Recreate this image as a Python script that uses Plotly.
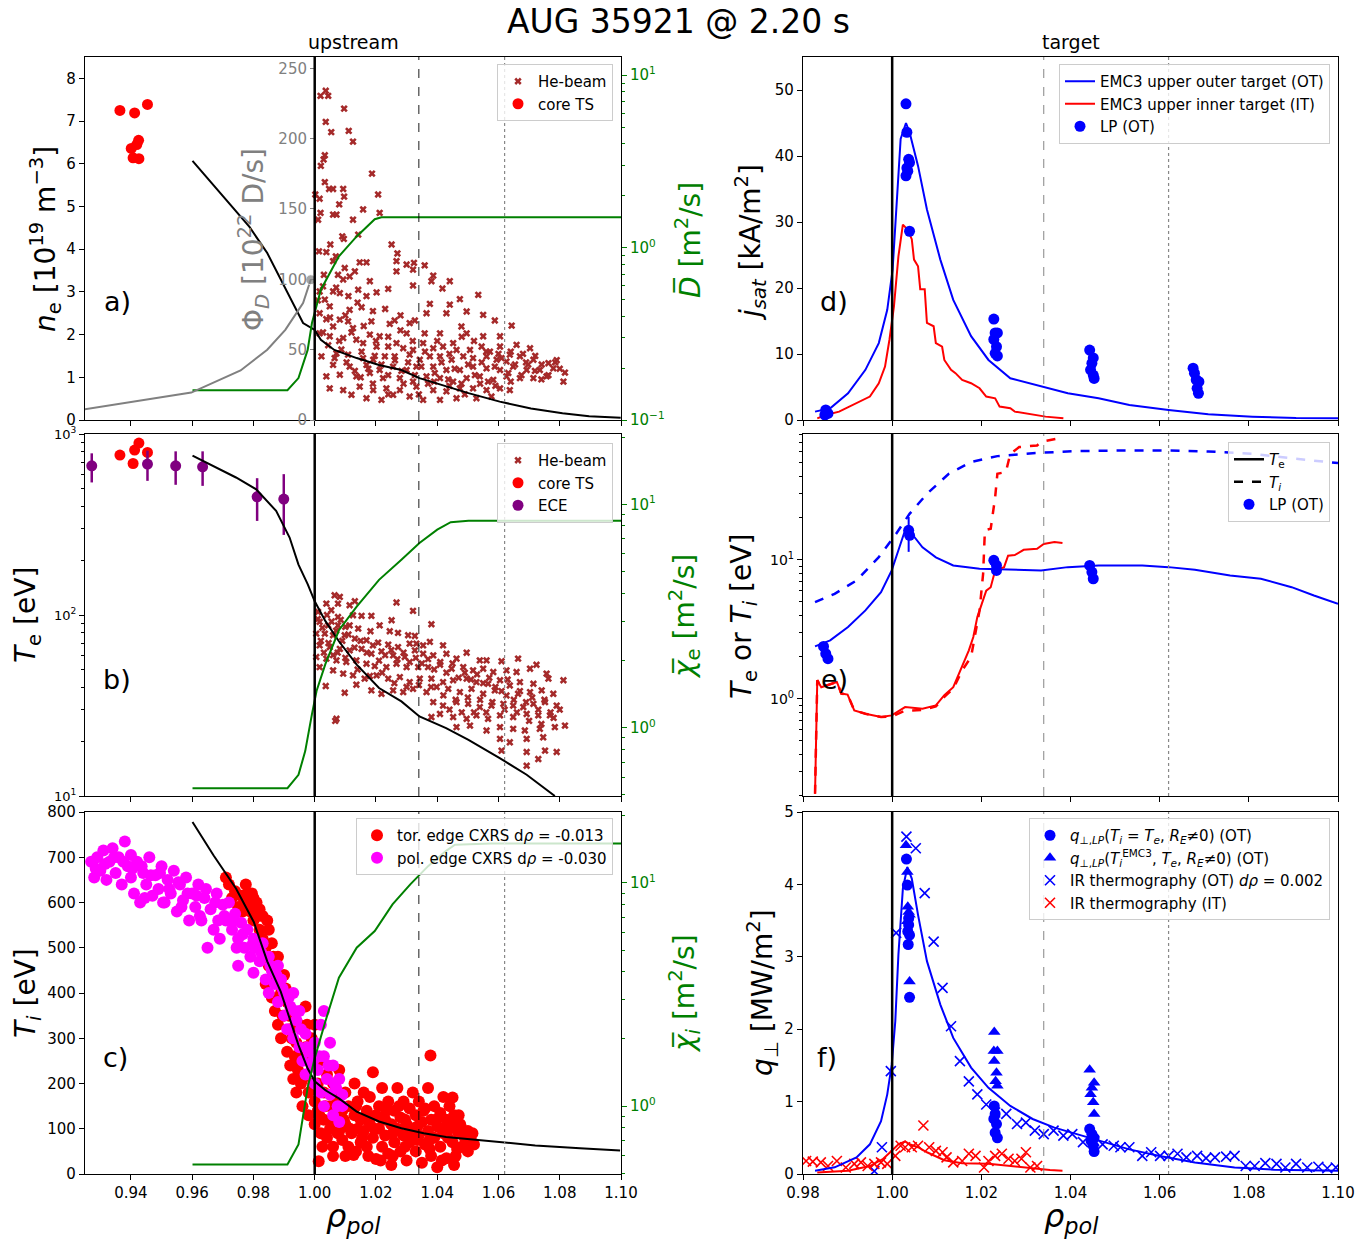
import plotly.graph_objects as go

W, H = 1371, 1241
FONT = "DejaVu Sans"
GREEN = "#008000"
GRAY = "#808080"
BROWN = "#A52A2A"

# ---------------- panel a (n_e upstream) ----------------
NE_MODEL_RHO = [0.9601, 0.9787, 0.9845, 0.9918, 0.9962, 1.000, 1.002, 1.0064, 1.0137, 1.021, 1.0283,
                1.0342, 1.0429, 1.0502, 1.0604, 1.0706, 1.0809, 1.0896, 1.0999]
NE_MODEL = [6.07, 4.52, 3.91, 2.89, 2.27, 2.11, 1.88, 1.64, 1.45, 1.29, 1.17, 0.98, 0.78, 0.63, 0.43,
            0.27, 0.16, 0.09, 0.05]
PHI_RHO = [0.9247, 0.9597, 0.9758, 0.9845, 0.9904, 0.9962, 0.9987]
PHI_D = [7.6, 19.5, 35.2, 49.9, 64.1, 83.1, 99.7]
D_RHO = [0.9601, 0.9911, 0.9947, 0.9977, 0.9991, 1.002, 1.0079, 1.0137, 1.0196, 1.0218, 1.10]
D_BAR = [0.149, 0.149, 0.175, 0.255, 0.365, 0.57, 0.89, 1.16, 1.46, 1.50, 1.50]
TS_A_RHO = [0.9364, 0.9412, 0.9454, 0.9425, 0.9419, 0.9401, 0.9407, 0.9426]
TS_A_NE = [7.25, 7.19, 7.39, 6.55, 6.45, 6.36, 6.14, 6.12]
HEB_NE = [
    (1.0036, 7.71), (1.0019, 7.59), (1.0044, 7.59), (1.0096, 7.29), (1.0036, 6.98), (1.0054, 6.74), (1.0111, 6.77),
    (1.0125, 6.52), (1.0033, 6.20), (1.0029, 6.10), (1.0020, 5.95), (1.0187, 5.77), (1.0033, 5.57), (1.0207, 5.28),
    (1.0047, 5.41), (1.0060, 5.41), (1.0093, 5.41), (1.0002, 5.28), (1.0016, 5.18), (1.0096, 5.23), (1.0080, 5.05),
    (1.0019, 4.85), (1.0158, 4.93), (1.0060, 4.81), (1.0071, 4.81), (1.0212, 4.85), (1.0125, 4.69), (1.0011, 4.69),
    (1.0090, 4.30), (1.0095, 4.24), (1.0142, 4.34), (1.0051, 4.11), (1.0251, 4.11), (1.0014, 3.95), (1.0038, 3.93),
    (1.0270, 3.90), (1.0069, 3.83), (1.0267, 3.72), (1.0060, 3.72), (1.0147, 3.69), (1.0169, 3.69), (1.0300, 3.64),
    (1.0324, 3.68), (1.0359, 3.62), (1.0098, 3.56), (1.0131, 3.48), (1.0267, 3.48), (1.0321, 3.52), (1.0387, 3.38),
    (1.0076, 3.40), (1.0114, 3.36), (1.0180, 3.25), (1.0381, 3.25), (1.0441, 3.25), (1.0093, 3.29), (1.0027, 3.13),
    (1.0321, 3.15), (1.0417, 3.08), (1.0016, 3.01), (1.0060, 3.01), (1.0082, 2.97), (1.0142, 3.05), (1.0202, 2.99),
    (1.0240, 3.07), (1.0474, 2.83), (1.0534, 2.93), (1.0169, 2.90), (1.0376, 2.72), (1.0430, 2.50), (1.0441, 2.70),
    (1.0496, 2.54), (1.0365, 2.50), (1.0550, 2.46), (1.0588, 2.33), (1.0643, 2.21), (1.0033, 2.82), (1.0049, 2.66),
    (1.0114, 2.58), (1.0153, 2.64), (1.0016, 2.50), (1.0038, 2.36), (1.0082, 2.35), (1.0109, 2.31), (1.0185, 2.31),
    (1.0245, 2.25), (1.0261, 2.33), (1.0310, 2.27), (1.0327, 2.33), (1.0060, 2.19), (1.0125, 2.15), (1.0180, 2.00),
    (1.0212, 1.96), (1.0300, 2.03), (1.0359, 2.03), (1.0409, 2.03), (1.0479, 2.19), (1.0496, 2.03), (1.0550, 1.96),
    (1.0605, 1.96), (1.0016, 2.03), (1.0049, 1.96), (1.0093, 1.92), (1.0136, 1.88), (1.0158, 1.80), (1.0202, 1.72),
    (1.0240, 1.72), (1.0267, 1.80), (1.0289, 1.68), (1.0321, 1.64), (1.0354, 1.80), (1.0387, 1.68), (1.0419, 1.72),
    (1.0452, 1.80), (1.0463, 1.64), (1.0507, 1.64), (1.0545, 1.72), (1.0572, 1.60), (1.0605, 1.72), (1.0637, 1.53),
    (1.0659, 1.76), (1.0703, 1.68), (1.0022, 1.49), (1.0071, 1.56), (1.0109, 1.53), (1.0158, 1.45), (1.0191, 1.41),
    (1.0229, 1.49), (1.0261, 1.49), (1.0310, 1.53), (1.0343, 1.41), (1.0376, 1.49), (1.0409, 1.49), (1.0447, 1.41),
    (1.0485, 1.49), (1.0517, 1.45), (1.0561, 1.49), (1.0594, 1.41), (1.0626, 1.37), (1.0670, 1.49), (1.0714, 1.41),
    (1.0763, 1.33), (1.0060, 1.29), (1.0114, 1.25), (1.0169, 1.29), (1.0212, 1.17), (1.0256, 1.25), (1.0300, 1.17),
    (1.0332, 1.25), (1.0387, 1.25), (1.0430, 1.17), (1.0474, 1.17), (1.0517, 1.25), (1.0561, 1.21), (1.0605, 1.17),
    (1.0648, 1.25), (1.0692, 1.17), (1.0735, 1.17), (1.0779, 1.21), (1.0817, 1.11), (1.0038, 1.02), (1.0082, 1.06),
    (1.0136, 1.02), (1.0180, 1.10), (1.0223, 0.98), (1.0278, 0.98), (1.0321, 0.90), (1.0365, 1.02), (1.0409, 0.98),
    (1.0452, 0.90), (1.0496, 0.98), (1.0539, 1.02), (1.0583, 0.94), (1.0626, 1.02), (1.0670, 0.98), (1.0714, 0.98),
    (1.0757, 1.02), (1.0812, 0.90), (1.0049, 0.74), (1.0093, 0.70), (1.0147, 0.78), (1.0191, 0.70), (1.0234, 0.74),
    (1.0278, 0.70), (1.0332, 0.78), (1.0387, 0.70), (1.0430, 0.67), (1.0474, 0.74), (1.0517, 0.74), (1.0561, 0.70),
    (1.0605, 0.74), (1.0637, 0.70), (1.0120, 0.59), (1.0169, 0.51), (1.0218, 0.47), (1.0256, 0.59), (1.0310, 0.55),
    (1.0354, 0.47), (1.0409, 0.47), (1.0463, 0.51), (1.0528, 0.51), (1.0577, 0.55),
    (1.0027, 2.05), (1.0044, 1.75), (1.0065, 1.45), (1.0087, 1.65), (1.0104, 1.35), (1.0131, 1.15), (1.0153, 1.60),
    (1.0175, 1.20), (1.0196, 1.50), (1.0218, 1.30), (1.0240, 1.05), (1.0262, 1.40), (1.0283, 1.15), (1.0305, 1.35),
    (1.0327, 1.05), (1.0348, 1.25), (1.0370, 0.85), (1.0392, 1.10), (1.0414, 1.35), (1.0436, 0.95), (1.0457, 1.20),
    (1.0479, 0.85), (1.0501, 1.30), (1.0523, 1.05), (1.0545, 1.35), (1.0566, 0.90), (1.0588, 1.25), (1.0610, 1.45),
    (1.0632, 1.10), (1.0654, 1.30), (1.0675, 1.05), (1.0697, 1.30), (1.0719, 1.15), (1.0741, 1.30), (1.0763, 1.05),
    (1.0785, 1.35), (1.0800, 1.20), (1.0080, 1.85), (1.0120, 2.05), (1.0160, 2.20), (1.0200, 1.85), (1.0240, 1.95),
    (1.0280, 2.10), (1.0320, 1.85), (1.0360, 1.60), (1.0400, 1.85), (1.0440, 1.55), (1.0480, 1.95), (1.0520, 1.85),
    (1.0560, 1.60), (1.0600, 1.55), (1.0640, 1.60), (1.0680, 1.55), (1.0720, 1.50), (1.0050, 2.40), (1.0100, 2.45),
    (1.0140, 2.75), (1.0190, 2.55), (1.0230, 2.60), (1.0280, 2.45), (1.0010, 2.80), (1.0030, 3.40), (1.0070, 3.10),
    (1.0110, 2.90), (1.0150, 1.00), (1.0190, 0.85), (1.0240, 0.60), (1.0290, 0.85), (1.0340, 0.60), (1.0390, 0.90),
    (1.0440, 0.80), (1.0490, 0.60), (1.0540, 0.85), (1.0590, 0.80), (1.0640, 0.90), (1.0690, 1.35), (1.0740, 0.95),
    (1.0790, 1.40),
]

# ---------------- panel b (T_e upstream) ----------------
TE_MODEL_RHO = [0.9601, 0.9743, 0.9809, 0.9874, 0.9918, 0.9947, 0.9977, 1.0, 1.0035, 1.0079, 1.0137, 1.021,
                1.0283, 1.0342, 1.0429, 1.0502, 1.0604, 1.0692, 1.0784]
TE_MODEL = [759, 575, 495, 376, 268, 190, 148, 119, 92.5, 71.6, 53.2, 39.5, 33.3, 27.5, 23.7, 20.4, 16.2, 13.1, 10.0]
CHIE_RHO = [0.9601, 0.9911, 0.9947, 0.9969, 0.9991, 1.0006, 1.0035, 1.0079, 1.0137, 1.021, 1.0283, 1.0342,
            1.04, 1.0444, 1.0502, 1.10]
CHIE = [0.536, 0.536, 0.615, 0.785, 1.15, 1.46, 1.93, 2.73, 3.48, 4.59, 5.65, 6.71, 7.7, 8.32, 8.44, 8.44]
ECE_RHO = [0.9272, 0.9454, 0.9546, 0.9634, 0.9812, 0.9899]
ECE_TE = [667, 682, 667, 659, 450, 437]
ECE_ERR_UP = [115, 127, 135, 143, 120, 163]
ECE_ERR_DN = [127, 131, 143, 142, 119, 160]
TS_B_RHO = [0.9364, 0.9426, 0.9412, 0.9454, 0.9407]
TS_B_TE = [765, 891, 815, 791, 687]
HEB_TE = [
    (1.0065, 128.5), (1.0082, 125.9), (1.0076, 115.6), (1.0038, 115.6), (1.0114, 113.2), (1.0131, 119.1),
    (1.0267, 117.2), (1.0321, 105.4), (1.0011, 104.0), (1.0054, 106.3), (1.0076, 97.5), (1.0125, 99.7),
    (1.0153, 98.9), (1.0185, 98.9), (1.0212, 87.7), (1.0251, 93.5), (1.0016, 91.6), (1.0044, 87.7), (1.0076, 87.7),
    (1.0114, 87.7), (1.0142, 84.1), (1.0182, 81.3), (1.0245, 81.3), (1.0272, 79.6), (1.0305, 77.3), (1.0327, 76.6),
    (1.0381, 88.9), (1.0005, 78.9), (1.0033, 78.9), (1.0060, 77.3), (1.0098, 77.3), (1.0131, 74.1), (1.0169, 72.5),
    (1.0207, 70.4), (1.0240, 68.6), (1.0272, 66.5), (1.0310, 69.5), (1.0332, 69.5), (1.0354, 67.9), (1.0376, 71.0),
    (1.0419, 67.9), (1.0016, 67.9), (1.0049, 66.5), (1.0082, 65.0), (1.0114, 63.8), (1.0153, 65.0), (1.0185, 61.1),
    (1.0218, 63.0), (1.0256, 59.8), (1.0294, 58.6), (1.0327, 63.8), (1.0354, 61.1), (1.0387, 59.8), (1.0430, 61.1),
    (1.0463, 57.4), (1.0496, 61.9), (1.0539, 56.1), (1.0561, 56.1), (1.0610, 55.5), (1.0664, 57.4), (1.0724, 53.1),
    (1.0005, 58.6), (1.0038, 57.4), (1.0071, 56.1), (1.0103, 55.0), (1.0136, 56.1), (1.0169, 53.8), (1.0196, 52.2),
    (1.0234, 51.5), (1.0267, 53.8), (1.0300, 51.5), (1.0338, 51.5), (1.0370, 51.5), (1.0409, 53.1), (1.0447, 50.5),
    (1.0485, 51.5), (1.0517, 49.4), (1.0550, 50.5), (1.0583, 48.4), (1.0626, 49.4), (1.0659, 48.4), (1.0703, 50.5),
    (1.0757, 47.4), (1.0016, 51.5), (1.0060, 49.4), (1.0093, 47.4), (1.0125, 46.4), (1.0163, 44.5), (1.0202, 46.4),
    (1.0240, 44.5), (1.0278, 45.4), (1.0310, 42.6), (1.0343, 44.5), (1.0381, 44.5), (1.0419, 42.6), (1.0452, 43.6),
    (1.0496, 44.5), (1.0528, 42.6), (1.0566, 41.7), (1.0605, 43.6), (1.0637, 40.8), (1.0670, 42.6), (1.0714, 41.7),
    (1.0763, 44.5), (1.0812, 43.6), (1.0036, 40.5), (1.0098, 37.2), (1.0136, 41.2), (1.0185, 38.3), (1.0218, 36.7),
    (1.0256, 38.3), (1.0289, 37.5), (1.0321, 39.1), (1.0365, 37.5), (1.0398, 40.0), (1.0436, 39.1), (1.0474, 37.5),
    (1.0512, 39.1), (1.0550, 36.7), (1.0588, 38.3), (1.0626, 35.9), (1.0664, 36.7), (1.0703, 37.5), (1.0741, 38.3),
    (1.0779, 36.7), (1.0071, 26.7), (1.0387, 33.0), (1.0419, 31.6), (1.0463, 33.0), (1.0501, 32.3), (1.0539, 31.0),
    (1.0577, 31.6), (1.0616, 32.3), (1.0648, 31.6), (1.0681, 31.0), (1.0714, 32.3), (1.0752, 33.0), (1.0790, 31.6),
    (1.0381, 27.3), (1.0409, 28.4), (1.0452, 27.3), (1.0496, 26.7), (1.0528, 27.9), (1.0566, 26.7), (1.0605, 27.9),
    (1.0648, 27.3), (1.0692, 28.4), (1.0730, 27.9), (1.0768, 27.9), (1.0817, 24.5), (1.0463, 24.0), (1.0507, 24.5),
    (1.0561, 23.0), (1.0605, 24.0), (1.0648, 23.5), (1.0686, 23.0), (1.0735, 23.5), (1.0784, 24.0), (1.0605, 20.7),
    (1.0637, 19.8), (1.0692, 20.7), (1.0746, 21.1), (1.0610, 17.8), (1.0692, 17.5), (1.0752, 17.8), (1.0790, 17.5),
    (1.0692, 14.7), (1.0730, 16.0), (1.0067, 26.0),
    (1.0010, 95), (1.0025, 85), (1.0040, 100), (1.0055, 92), (1.0070, 82), (1.0085, 94), (1.0100, 86), (1.0020, 72),
    (1.0045, 70), (1.0075, 62), (1.0090, 72), (1.0110, 78), (1.0130, 66), (1.0150, 72), (1.0170, 62), (1.0190, 68),
    (1.0210, 56), (1.0230, 60), (1.0250, 64), (1.0270, 57), (1.0290, 62), (1.0310, 55), (1.0330, 58), (1.0350, 54),
    (1.0370, 57), (1.0390, 50), (1.0410, 55), (1.0430, 48), (1.0450, 54), (1.0470, 45), (1.0490, 48), (1.0510, 44),
    (1.0530, 47), (1.0550, 42), (1.0570, 45), (1.0590, 40), (1.0610, 38), (1.0630, 44), (1.0650, 34), (1.0670, 38),
    (1.0690, 33), (1.0710, 35), (1.0730, 30), (1.0750, 34), (1.0770, 29), (1.0030, 62), (1.0060, 60), (1.0100, 58),
    (1.0140, 50), (1.0180, 46), (1.0220, 48), (1.0260, 42), (1.0300, 40), (1.0340, 41), (1.0380, 40), (1.0420, 36),
    (1.0460, 34), (1.0500, 35), (1.0540, 34), (1.0580, 33), (1.0620, 30), (1.0660, 29), (1.0700, 26), (1.0740, 25),
    (1.0780, 27), (1.0800, 30), (1.0520, 29), (1.0560, 29), (1.0440, 30), (1.0480, 29),
]

# ---------------- panel c (T_i upstream) ----------------
TI_MODEL_RHO = [0.9601, 0.967, 0.9743, 0.9801, 0.9845, 0.9889, 0.9918, 0.9947, 0.9977, 1.0, 1.0035, 1.0079,
                1.0137, 1.021, 1.0283, 1.0356, 1.0429, 1.0502, 1.0604, 1.072, 1.0866, 1.0997]
TI_MODEL = [778, 704, 631, 557, 470, 403, 344, 285, 233, 205, 185, 167, 138, 116, 101, 90, 82, 77, 70, 63, 57, 52]
CHII_RHO = [0.9601, 0.9911, 0.9947, 0.9962, 0.9977, 1.0, 1.0035, 1.0079, 1.0137, 1.0196, 1.0254, 1.0312,
            1.0371, 1.0429, 1.0458, 1.0575, 1.10]
CHII = [0.548, 0.548, 0.673, 0.887, 1.21, 1.64, 2.40, 3.76, 5.12, 6.08, 8.0, 9.84, 11.9, 13.9, 14.8, 15.0, 15.0]
CXRS_TOR = [
    (0.971, 655), (0.972, 640), (0.973, 610), (0.974, 625), (0.975, 590), (0.976, 615), (0.977, 600), (0.978, 620),
    (0.979, 580), (0.980, 610), (0.980, 560), (0.981, 600), (0.982, 540), (0.982, 585), (0.983, 520), (0.983, 570),
    (0.984, 420), (0.984, 500), (0.985, 540), (0.985, 460), (0.986, 390), (0.986, 510), (0.987, 430), (0.987, 360),
    (0.988, 480), (0.988, 330), (0.989, 400), (0.989, 300), (0.990, 440), (0.990, 350), (0.991, 270), (0.991, 380),
    (0.992, 320), (0.992, 240), (0.993, 350), (0.993, 210), (0.994, 290), (0.994, 180), (0.995, 330), (0.995, 250),
    (0.996, 150), (0.996, 210), (0.997, 370), (0.997, 280), (0.998, 180), (0.998, 130), (0.999, 240), (0.999, 300),
    (1.000, 160), (1.000, 110), (1.000, 330), (1.001, 200), (1.001, 140), (1.002, 90), (1.002, 250), (1.0013, 28),
    (1.003, 180), (1.003, 120), (1.004, 220), (1.004, 80), (1.005, 150), (1.005, 100), (1.006, 200), (1.006, 60),
    (1.007, 130), (1.007, 170), (1.008, 95), (1.008, 230), (1.009, 140), (1.009, 75), (1.010, 110), (1.010, 180),
    (1.011, 60), (1.011, 150), (1.0127, 42), (1.012, 90), (1.013, 200), (1.013, 130), (1.014, 100), (1.014, 160),
    (1.015, 70), (1.015, 120), (1.016, 180), (1.016, 95), (1.017, 140), (1.017, 60), (1.018, 110), (1.018, 170),
    (1.019, 225), (1.019, 80), (1.020, 130), (1.020, 33), (1.021, 150), (1.021, 100), (1.022, 60), (1.022, 190),
    (1.023, 120), (1.023, 85), (1.024, 160), (1.024, 45), (1.025, 110), (1.025, 20), (1.026, 140), (1.026, 70),
    (1.027, 190), (1.027, 100), (1.028, 125), (1.028, 50), (1.029, 160), (1.029, 85), (1.030, 110), (1.030, 30),
    (1.031, 145), (1.031, 70), (1.032, 180), (1.032, 100), (1.033, 130), (1.033, 50), (1.034, 160), (1.034, 85),
    (1.035, 115), (1.035, 25), (1.036, 145), (1.036, 65), (1.037, 190), (1.037, 95), (1.0378, 262), (1.038, 120),
    (1.038, 40), (1.039, 150), (1.039, 80), (1.040, 105), (1.040, 15), (1.041, 135), (1.041, 60), (1.042, 170),
    (1.042, 90), (1.043, 120), (1.043, 35), (1.044, 100), (1.044, 150), (1.045, 169), (1.045, 70), (1.046, 110),
    (1.046, 40), (1.047, 90), (1.047, 130), (1.048, 60), (1.048, 100), (1.049, 80), (1.050, 95), (1.050, 50),
    (1.051, 75), (1.052, 65),
    (1.0015, 130), (1.0035, 150), (1.0055, 120), (1.0075, 90), (1.0095, 120), (1.0115, 100), (1.0135, 150),
    (1.0155, 80), (1.0175, 120), (1.0195, 100), (1.0215, 125), (1.0235, 140), (1.0255, 90), (1.0275, 150),
    (1.0295, 120), (1.0315, 90), (1.0335, 105), (1.0355, 140), (1.0375, 75), (1.0395, 120), (1.0415, 100),
    (1.0435, 80), (1.0455, 130), (1.0475, 110), (1.0495, 70), (1.0515, 90), (1.0135, 50), (1.0175, 40),
    (1.0215, 30), (1.0255, 40), (1.0295, 60), (1.0335, 75), (1.0375, 55), (1.0415, 30), (1.0455, 20), (1.0465, 55),
    (1.0025, 60), (1.0060, 40), (1.0100, 40), (0.9995, 200), (0.9985, 280), (0.9975, 330), (0.9965, 260),
    (0.9955, 200), (0.9945, 230), (0.9935, 260), (0.9925, 300), (0.9915, 350), (0.9905, 410), (0.9895, 350),
    (0.9875, 450), (0.9865, 480), (0.9855, 430), (0.9845, 560), (0.9835, 480), (0.9825, 520), (0.9815, 570),
    (0.9805, 590), (0.9795, 620), (0.9785, 600), (0.9775, 640), (0.9765, 580),
]
CXRS_POL = [
    (0.927, 690), (0.928, 655), (0.929, 700), (0.930, 670), (0.931, 715), (0.932, 650), (0.933, 690), (0.934, 720),
    (0.935, 665), (0.936, 700), (0.937, 640), (0.938, 735), (0.939, 680), (0.940, 705), (0.940, 655), (0.941, 620),
    (0.942, 690), (0.943, 600), (0.944, 665), (0.945, 640), (0.946, 700), (0.947, 615), (0.948, 660), (0.949, 630),
    (0.950, 680), (0.951, 600), (0.952, 650), (0.953, 620), (0.954, 670), (0.955, 580), (0.956, 640), (0.957, 605),
    (0.958, 655), (0.959, 560), (0.960, 620), (0.961, 590), (0.962, 640), (0.963, 560), (0.964, 610), (0.965, 500),
    (0.966, 585), (0.967, 540), (0.968, 620), (0.969, 520), (0.970, 595), (0.971, 560), (0.972, 600), (0.973, 540),
    (0.974, 575), (0.975, 460), (0.975, 520), (0.976, 555), (0.977, 500), (0.978, 540), (0.979, 480), (0.980, 520),
    (0.980, 445), (0.981, 500), (0.982, 470), (0.983, 510), (0.984, 430), (0.985, 480), (0.985, 400), (0.986, 450),
    (0.987, 420), (0.988, 460), (0.988, 380), (0.989, 430), (0.990, 350), (0.990, 400), (0.991, 320), (0.992, 370),
    (0.993, 300), (0.993, 400), (0.994, 340), (0.995, 280), (0.995, 360), (0.996, 250), (0.997, 310), (0.997, 220),
    (0.998, 270), (0.999, 240), (1.000, 200), (1.000, 290), (1.001, 230), (1.002, 180), (1.002, 330), (1.003, 260),
    (1.003, 150), (1.003, 360), (1.004, 210), (1.005, 175), (1.005, 290), (1.006, 240), (1.006, 130), (1.007, 190),
    (1.008, 210), (1.008, 115), (1.009, 150), (1.009, 175),
    (0.9285, 675), (0.9315, 685), (0.9345, 700), (0.9375, 690), (0.9405, 675), (0.9435, 680), (0.9465, 660),
    (0.9495, 665), (0.9525, 630), (0.9555, 645), (0.9585, 620), (0.9615, 615), (0.9645, 630), (0.9675, 600),
    (0.9705, 570), (0.9735, 560), (0.9765, 530), (0.9795, 505), (0.9825, 490), (0.9855, 460), (0.9875, 440),
    (0.9895, 410), (0.9915, 390), (0.9935, 360), (0.9955, 320), (0.9975, 280), (0.9995, 250), (1.0015, 260),
    (1.0045, 240), (1.0065, 200), (1.0075, 150), (0.9445, 610), (0.9505, 600), (0.9565, 590), (0.9625, 570),
    (0.9685, 560), (0.9745, 500),
]

# ---------------- panel d (j_sat target) ----------------
JSAT_OT_RHO = [0.9827, 0.9861, 0.9901, 0.994, 0.997, 0.9989, 1.0001, 1.0009, 1.0019, 1.0031, 1.0039, 1.0058,
               1.0078, 1.0108, 1.0137, 1.0177, 1.0216, 1.0265, 1.034, 1.0394, 1.0463, 1.0532, 1.062, 1.0709,
               1.0808, 1.0906, 1.10]
JSAT_OT = [1.27, 1.77, 4.05, 7.6, 11.65, 16.7, 22.8, 30.9, 42.6, 45.0, 43.6, 38.5, 31.9, 24.3, 18.2, 12.7, 9.1,
           6.33, 5.07, 4.05, 3.29, 2.28, 1.52, 0.86, 0.51, 0.30, 0.25]
JSAT_IT_RHO = [0.9832, 0.9851, 0.9881, 0.992, 0.995, 0.997, 0.9984, 0.9994, 1.0004, 1.0014, 1.0024, 1.0034,
               1.0044, 1.0049, 1.0058, 1.0063, 1.0073, 1.0078, 1.0093, 1.0098, 1.0112, 1.0117, 1.0132, 1.0142,
               1.0157, 1.0177, 1.0196, 1.0211, 1.0231, 1.0241, 1.0265, 1.0275, 1.03, 1.0315, 1.0344, 1.0384]
JSAT_IT = [0.25, 0.76, 1.27, 2.53, 3.55, 5.57, 8.1, 12.2, 17.2, 24.8, 29.6, 28.9, 27.4, 24.3, 23.3, 19.8, 19.8,
           14.7, 14.2, 11.65, 11.1, 9.1, 7.6, 7.1, 6.08, 5.57, 4.81, 3.55, 3.29, 2.03, 1.77, 1.27, 1.01, 0.76,
           0.51, 0.25]
LP_D_RHO = [1.0031, 1.0033, 1.0037, 1.0039, 1.0033, 1.0035, 1.0031, 1.0039, 0.9851, 0.9856, 0.9849, 1.0228,
            1.0231, 1.0236, 1.0228, 1.0234, 1.0231, 1.0236, 1.0443, 1.0451, 1.0448, 1.0445, 1.0451, 1.0453,
            1.0675, 1.0678, 1.0682, 1.0688, 1.0684, 1.0687]
LP_D_JSAT = [47.9, 43.6, 39.5, 39.0, 38.2, 37.7, 37.0, 28.6, 1.52, 1.0, 0.76, 15.3, 13.2, 13.2, 12.2, 11.1, 10.1,
             9.7, 10.6, 9.4, 8.6, 7.6, 6.8, 6.3, 7.85, 7.1, 6.1, 5.8, 4.8, 4.05]

# ---------------- panel e (T target) ----------------
TE_OT_RHO = [0.9827, 0.9861, 0.9901, 0.994, 0.9975, 0.9999, 1.0014, 1.0029, 1.0044, 1.0068, 1.0098, 1.0137,
             1.0196, 1.0256, 1.0334, 1.0394, 1.0463, 1.0561, 1.062, 1.0679, 1.0758, 1.0827, 1.0896, 1.0946, 1.10]
TE_OT = [2.38, 2.63, 3.28, 4.32, 5.85, 8.38, 11.7, 16.3, 15.4, 12.3, 10.4, 9.1, 8.61, 8.47, 8.38, 8.85, 9.1, 9.1,
         8.85, 8.47, 7.71, 7.3, 6.35, 5.53, 4.82]
TI_OT_RHO = [0.9827, 0.9871, 0.992, 0.997, 1.0009, 1.0039, 1.0078, 1.0127, 1.0177, 1.0236, 1.0315, 1.0413,
             1.0512, 1.062, 1.0709, 1.0808, 1.0906, 1.10]
TI_OT = [4.95, 5.69, 7.1, 10.45, 15.4, 21.4, 29.8, 41.6, 50.5, 55.7, 58.5, 60.5, 61.2, 61.2, 60.2, 57.9, 53.3, 49.6]
TE_IT_RHO = [0.9827, 0.9832, 0.9841, 0.9861, 0.9876, 0.9886, 0.99, 0.9915, 0.994, 0.9975, 0.9999, 1.0029,
             1.0068, 1.0098, 1.0117, 1.0137, 1.0157, 1.0172, 1.0182, 1.0191, 1.0201, 1.0211, 1.0221, 1.0231,
             1.0251, 1.026, 1.0275, 1.0295, 1.0325, 1.034, 1.0364, 1.0382]
TE_IT = [0.207, 1.36, 1.21, 1.28, 1.32, 1.09, 1.07, 0.824, 0.78, 0.738, 0.759, 0.871, 0.847, 0.895, 1.06, 1.21,
         1.69, 2.23, 2.78, 3.87, 4.82, 6.0, 6.35, 8.38, 8.85, 10.7, 10.8, 11.8, 12.0, 13.0, 13.4, 13.2]
TI_IT_RHO = [0.9827, 0.9832, 0.9841, 0.9861, 0.9876, 0.9886, 0.99, 0.9915, 0.994, 0.9975, 0.9999, 1.0029,
             1.0068, 1.0098, 1.0117, 1.0137, 1.0157, 1.0177, 1.0187, 1.0196, 1.0204, 1.0208, 1.0221, 1.0231,
             1.0236, 1.0255, 1.0265, 1.0285, 1.0325, 1.0334, 1.0369]
TI_IT = [0.207, 1.36, 1.21, 1.28, 1.32, 1.09, 1.07, 0.824, 0.78, 0.738, 0.745, 0.82, 0.83, 0.88, 1.03, 1.18,
         1.6, 2.0, 2.94, 4.32, 7.93, 16.3, 16.7, 28.2, 41.6, 42.8, 57.9, 64.7, 66.5, 70.4, 74.3]
LP_E_RHO = [0.9846, 0.9851, 0.9856, 1.0037, 1.0039, 1.0228, 1.0234, 1.0234, 1.0443, 1.0448, 1.0451]
LP_E_T = [2.38, 2.11, 1.94, 16.3, 15.0, 9.9, 9.1, 8.38, 9.1, 8.15, 7.3]
LP_E_ERR_UP = [0, 0, 0, 4.0, 0, 0, 0, 0, 0, 0, 0]
LP_E_ERR_DN = [0, 0, 0, 4.9, 0, 0, 0, 0, 0, 0, 0]

# ---------------- panel f (q target) ----------------
Q_OT_RHO = [0.9827, 0.9871, 0.992, 0.995, 0.9975, 0.9989, 0.9999, 1.0007, 1.0014, 1.0024, 1.0034, 1.0044,
            1.0058, 1.0078, 1.0108, 1.0137, 1.0177, 1.0216, 1.0265, 1.0315, 1.0364, 1.0413, 1.0472, 1.0532,
            1.06, 1.0679, 1.0768, 1.0857, 1.10]
Q_OT = [0.046, 0.092, 0.23, 0.41, 0.73, 1.10, 1.51, 2.11, 3.03, 3.94, 4.24, 4.08, 3.58, 2.94, 2.34, 1.88, 1.47,
        1.19, 0.94, 0.76, 0.64, 0.55, 0.44, 0.34, 0.25, 0.16, 0.09, 0.06, 0.046]
Q_IT_RHO = [0.9832, 0.9901, 0.995, 0.998, 0.9999, 1.0014, 1.0029, 1.0039, 1.0058, 1.0078, 1.0117, 1.0157,
            1.0216, 1.0275, 1.0315, 1.0354, 1.0382]
Q_IT = [0.02, 0.046, 0.11, 0.21, 0.32, 0.41, 0.45, 0.41, 0.37, 0.30, 0.19, 0.15, 0.14, 0.11, 0.08, 0.055, 0.046]
QLP_C_RHO = [1.0032, 1.0034, 1.0037, 1.0037, 1.0035, 1.0039, 1.0036, 1.0039, 1.0229, 1.0231, 1.0228, 1.0234,
             1.0231, 1.0236, 1.0443, 1.0448, 1.0453, 1.0446, 1.0451, 1.0453]
QLP_C = [4.35, 3.99, 3.53, 3.44, 3.35, 3.30, 3.17, 2.44, 0.94, 0.83, 0.76, 0.69, 0.57, 0.50, 0.62, 0.55, 0.50,
         0.46, 0.39, 0.31]
QLP_T_RHO = [1.0031, 1.0034, 1.0035, 1.0037, 1.0039, 1.0034, 1.0039, 1.0229, 1.0228, 1.0236, 1.0229, 1.0234,
             1.0232, 1.0236, 1.0443, 1.0453, 1.0448, 1.0445, 1.0451, 1.0453]
QLP_T = [4.54, 4.17, 3.69, 3.62, 3.58, 3.49, 2.66, 1.96, 1.70, 1.70, 1.56, 1.40, 1.28, 1.22, 1.44, 1.26, 1.19,
         1.10, 0.99, 0.83]
IR_OT = [
    (0.9960, 0.04), (0.9977, 0.37), (0.9997, 1.42), (1.0009, 3.33), (1.0032, 4.66), (1.0053, 4.50), (1.0073, 3.88),
    (1.0093, 3.21), (1.0113, 2.57), (1.0132, 2.04), (1.0152, 1.56), (1.0172, 1.28), (1.0191, 1.10), (1.0211, 0.96),
    (1.0231, 0.85), (1.0256, 0.83), (1.0280, 0.69), (1.0300, 0.71), (1.0320, 0.60), (1.0340, 0.55), (1.0362, 0.60),
    (1.0384, 0.53), (1.0404, 0.55), (1.0428, 0.44), (1.0453, 0.46), (1.0472, 0.41), (1.0497, 0.39), (1.0512, 0.37),
    (1.0532, 0.37), (1.0561, 0.25), (1.0581, 0.30), (1.0601, 0.25), (1.0620, 0.25), (1.0640, 0.28), (1.0660, 0.23),
    (1.0684, 0.25), (1.0704, 0.22), (1.0724, 0.23), (1.0749, 0.24), (1.0768, 0.25), (1.0793, 0.11), (1.0813, 0.11),
    (1.0837, 0.15), (1.0862, 0.14), (1.0882, 0.09), (1.0906, 0.14), (1.0931, 0.09), (1.0956, 0.10), (1.0976, 0.08),
    (1.0995, 0.09),
]
IR_IT = [
    (0.9807, 0.18), (0.9822, 0.17), (0.9840, 0.16), (0.9856, 0.11), (0.9876, 0.18), (0.9896, 0.09), (0.9915, 0.14),
    (0.9930, 0.16), (0.9945, 0.11), (0.9960, 0.14), (0.9975, 0.16), (0.9989, 0.14), (1.0007, 0.25), (1.0019, 0.39),
    (1.0029, 0.37), (1.0044, 0.37), (1.0058, 0.39), (1.0070, 0.67), (1.0083, 0.37), (1.0098, 0.32), (1.0113, 0.30),
    (1.0122, 0.23), (1.0137, 0.16), (1.0157, 0.18), (1.0172, 0.28), (1.0187, 0.25), (1.0206, 0.09), (1.0216, 0.18),
    (1.0231, 0.25), (1.0246, 0.28), (1.0261, 0.21), (1.0275, 0.18), (1.0290, 0.21), (1.0300, 0.30), (1.0310, 0.09),
    (1.0325, 0.11),
]

SEPARATRIX = 1.0
DASHED_RHO = 1.034
DOTTED_RHO = 1.062
LEFT_TICKS = [0.94, 0.96, 0.98, 1.00, 1.02, 1.04, 1.06, 1.08, 1.10]
RIGHT_TICKS = [0.98, 1.00, 1.02, 1.04, 1.06, 1.08, 1.10]


def unzip(pairs):
    return [p[0] for p in pairs], [p[1] for p in pairs]


def px(x):
    return x / W


def py(y):
    return 1 - y / H


LEFT = [px(85), px(621)]
RIGHT = [px(803), px(1338)]
ROW_A = [py(420), py(57)]
ROW_B = [py(796), py(434)]
ROW_C = [py(1174), py(812)]

fig = go.Figure()


def add(trace):
    fig.add_trace(trace)


# ---- panel a ----
hx, hy = unzip(HEB_NE)
add(go.Scatter(x=hx, y=hy, mode="markers", name="He-beam", legend="legend",
               marker=dict(color=BROWN, size=6.5, symbol="x", line=dict(width=0)), xaxis="x", yaxis="y"))
add(go.Scatter(x=TS_A_RHO, y=TS_A_NE, mode="markers", name="core TS", legend="legend",
               marker=dict(color="red", size=11), xaxis="x", yaxis="y"))
add(go.Scatter(x=NE_MODEL_RHO, y=NE_MODEL, mode="lines", line=dict(color="black", width=2),
               xaxis="x", yaxis="y", showlegend=False))
add(go.Scatter(x=PHI_RHO, y=PHI_D, mode="lines+markers", line=dict(color=GRAY, width=2),
               marker=dict(color=GRAY, size=[0] * (len(PHI_RHO) - 1) + [10]),
               xaxis="x", yaxis="y3", showlegend=False))
add(go.Scatter(x=D_RHO, y=D_BAR, mode="lines", line=dict(color=GREEN, width=2),
               xaxis="x", yaxis="y2", showlegend=False))

# ---- panel b ----
hx, hy = unzip(HEB_TE)
add(go.Scatter(x=hx, y=hy, mode="markers", name="He-beam", legend="legend2",
               marker=dict(color=BROWN, size=6.5, symbol="x", line=dict(width=0)), xaxis="x2", yaxis="y4"))
add(go.Scatter(x=TS_B_RHO, y=TS_B_TE, mode="markers", name="core TS", legend="legend2",
               marker=dict(color="red", size=11), xaxis="x2", yaxis="y4"))
add(go.Scatter(x=ECE_RHO, y=ECE_TE, mode="markers", name="ECE", legend="legend2",
               marker=dict(color="purple", size=11),
               error_y=dict(type="data", symmetric=False, array=ECE_ERR_UP, arrayminus=ECE_ERR_DN,
                            color="purple", thickness=2.5, width=0),
               xaxis="x2", yaxis="y4"))
add(go.Scatter(x=TE_MODEL_RHO, y=TE_MODEL, mode="lines", line=dict(color="black", width=2),
               xaxis="x2", yaxis="y4", showlegend=False))
add(go.Scatter(x=CHIE_RHO, y=CHIE, mode="lines", line=dict(color=GREEN, width=2),
               xaxis="x2", yaxis="y5", showlegend=False))

# ---- panel c ----
tx, ty = unzip(CXRS_TOR)
add(go.Scatter(x=tx, y=ty, mode="markers", name="tor. edge CXRS d<i>ρ</i> = -0.013", legend="legend3",
               marker=dict(color="red", size=12), xaxis="x3", yaxis="y6"))
ppx, ppy = unzip(CXRS_POL)
add(go.Scatter(x=ppx, y=ppy, mode="markers", name="pol. edge CXRS d<i>ρ</i> = -0.030", legend="legend3",
               marker=dict(color="magenta", size=12), xaxis="x3", yaxis="y6"))
add(go.Scatter(x=TI_MODEL_RHO, y=TI_MODEL, mode="lines", line=dict(color="black", width=2),
               xaxis="x3", yaxis="y6", showlegend=False))
add(go.Scatter(x=CHII_RHO, y=CHII, mode="lines", line=dict(color=GREEN, width=2),
               xaxis="x3", yaxis="y7", showlegend=False))

# ---- panel d ----
add(go.Scatter(x=JSAT_OT_RHO, y=JSAT_OT, mode="lines", name="EMC3 upper outer target (OT)", legend="legend4",
               line=dict(color="blue", width=2), xaxis="x4", yaxis="y8"))
add(go.Scatter(x=JSAT_IT_RHO, y=JSAT_IT, mode="lines", name="EMC3 upper inner target (IT)", legend="legend4",
               line=dict(color="red", width=2), xaxis="x4", yaxis="y8"))
add(go.Scatter(x=LP_D_RHO, y=LP_D_JSAT, mode="markers", name="LP (OT)", legend="legend4",
               marker=dict(color="blue", size=11), xaxis="x4", yaxis="y8"))

# ---- panel e ----
add(go.Scatter(x=TE_OT_RHO, y=TE_OT, mode="lines", line=dict(color="blue", width=2),
               xaxis="x5", yaxis="y9", showlegend=False))
add(go.Scatter(x=TI_OT_RHO, y=TI_OT, mode="lines", line=dict(color="blue", width=2.5, dash="dash"),
               xaxis="x5", yaxis="y9", showlegend=False))
add(go.Scatter(x=TE_IT_RHO, y=TE_IT, mode="lines", line=dict(color="red", width=2),
               xaxis="x5", yaxis="y9", showlegend=False))
add(go.Scatter(x=TI_IT_RHO, y=TI_IT, mode="lines", line=dict(color="red", width=2.5, dash="dash"),
               xaxis="x5", yaxis="y9", showlegend=False))
add(go.Scatter(x=[None], y=[None], mode="lines", name="<i>T</i><sub>e</sub>", legend="legend5",
               line=dict(color="black", width=2.5), xaxis="x5", yaxis="y9"))
add(go.Scatter(x=[None], y=[None], mode="lines", name="<i>T</i><sub><i>i</i></sub>", legend="legend5",
               line=dict(color="black", width=2.5, dash="dash"), xaxis="x5", yaxis="y9"))
add(go.Scatter(x=LP_E_RHO, y=LP_E_T, mode="markers", name="LP (OT)", legend="legend5",
               marker=dict(color="blue", size=11),
               error_y=dict(type="data", symmetric=False, array=LP_E_ERR_UP, arrayminus=LP_E_ERR_DN,
                            color="blue", thickness=2, width=0),
               xaxis="x5", yaxis="y9"))

# ---- panel f ----
add(go.Scatter(x=QLP_C_RHO, y=QLP_C, mode="markers", legend="legend6",
               name="<i>q</i><sub>⊥,<i>LP</i></sub>(<i>T</i><sub><i>i</i></sub> = <i>T</i><sub><i>e</i></sub>, <i>R</i><sub><i>E</i></sub>≠0) (OT)",
               marker=dict(color="blue", size=11), xaxis="x6", yaxis="y10"))
add(go.Scatter(x=QLP_T_RHO, y=QLP_T, mode="markers", legend="legend6",
               name="<i>q</i><sub>⊥,<i>LP</i></sub>(<i>T</i><sub><i>i</i></sub><sup>EMC3</sup>, <i>T</i><sub><i>e</i></sub>, <i>R</i><sub><i>E</i></sub>≠0) (OT)",
               marker=dict(color="blue", size=11, symbol="triangle-up"), xaxis="x6", yaxis="y10"))
ix, iy = unzip(IR_OT)
add(go.Scatter(x=ix, y=iy, mode="markers", legend="legend6",
               name="IR thermography (OT) <i>dρ</i> = 0.002",
               marker=dict(color="blue", size=10, symbol="x-thin", line=dict(color="blue", width=1.6)),
               xaxis="x6", yaxis="y10"))
ix, iy = unzip(IR_IT)
add(go.Scatter(x=ix, y=iy, mode="markers", legend="legend6", name="IR thermography (IT)",
               marker=dict(color="red", size=10, symbol="x-thin", line=dict(color="red", width=1.6)),
               xaxis="x6", yaxis="y10"))
add(go.Scatter(x=Q_OT_RHO, y=Q_OT, mode="lines", line=dict(color="blue", width=2),
               xaxis="x6", yaxis="y10", showlegend=False))
add(go.Scatter(x=Q_IT_RHO, y=Q_IT, mode="lines", line=dict(color="red", width=2),
               xaxis="x6", yaxis="y10", showlegend=False))

# ---------------- axes ----------------
TICKFONT = dict(family=FONT, size=15, color="black")


def xax(domain, anchor, rng, ticks, labels):
    return dict(domain=domain, anchor=anchor, range=rng, tickmode="array", tickvals=ticks,
                ticktext=[f"{t:.2f}" for t in ticks], showticklabels=labels, ticks="outside", ticklen=5,
                tickwidth=1, tickcolor="black", showline=True, linecolor="black", linewidth=1.3, mirror=True,
                showgrid=False, zeroline=False, tickfont=TICKFONT, automargin=False)


def yax(domain, anchor, rng, ticks, text=None, typ="linear", minor=None, size=15):
    d = dict(domain=domain, anchor=anchor, range=rng, type=typ, tickmode="array", tickvals=ticks,
             ticktext=text if text else [str(t) for t in ticks], ticks="outside", ticklen=5, tickwidth=1,
             tickcolor="black", showline=True, linecolor="black", linewidth=1.3, mirror=True, showgrid=False,
             zeroline=False, tickfont=dict(family=FONT, size=size, color="black"), automargin=False)
    if minor:
        d["minor"] = dict(tickmode="array", tickvals=minor, ticks="outside", ticklen=3, tickcolor="black",
                          showgrid=False)
    return d


def green_ax(overlay, anchor, rng, ticks, text, minor):
    return dict(overlaying=overlay, anchor=anchor, side="right", type="log", range=rng, tickmode="array",
                tickvals=ticks, ticktext=text, ticks="outside", ticklen=5, tickwidth=1, tickcolor=GREEN,
                showline=False, showgrid=False, zeroline=False, automargin=False,
                tickfont=dict(family=FONT, size=15, color=GREEN),
                minor=dict(tickmode="array", tickvals=minor, ticks="outside", ticklen=3, tickcolor=GREEN,
                           showgrid=False))


M01 = [0.2, 0.3, 0.4, 0.5, 0.6, 0.7, 0.8, 0.9]
M1 = [2, 3, 4, 5, 6, 7, 8, 9]
M10 = [20, 30, 40, 50, 60, 70, 80, 90]
M100 = [200, 300, 400, 500, 600, 700, 800, 900]


def P(n):
    return f"10<sup>{n}</sup>"


fig.update_layout(
    xaxis=xax(LEFT, "y", [0.925, 1.10], LEFT_TICKS, False),
    yaxis=yax(ROW_A, "x", [0, 8.5], [0, 1, 2, 3, 4, 5, 6, 7, 8]),
    yaxis2=green_ax("y", "x", [-1, 1.105], [0.1, 1, 10], [P("−1"), P(0), P(1)], M01 + M1),
    yaxis3=dict(overlaying="y", anchor="free", position=px(315), side="left", range=[0, 258],
                tickmode="array", tickvals=[0, 50, 100, 150, 200, 250], ticks="outside", ticklen=5,
                tickcolor=GRAY, showline=False, showgrid=False, zeroline=False, automargin=False,
                tickfont=dict(family=FONT, size=15, color=GRAY)),
    xaxis2=xax(LEFT, "y4", [0.925, 1.10], LEFT_TICKS, False),
    yaxis4=yax(ROW_B, "x2", [1, 3], [10, 100, 1000], [P(1), P(2), P(3)], "log", M10 + M100, size=13),
    yaxis5=green_ax("y4", "x2", [-0.306, 1.315], [1, 10], [P(0), P(1)], [0.5, 0.6, 0.7, 0.8, 0.9] + M1 + [20]),
    xaxis3=xax(LEFT, "y6", [0.925, 1.10], LEFT_TICKS, True),
    yaxis6=yax(ROW_C, "x3", [0, 800], [0, 100, 200, 300, 400, 500, 600, 700, 800]),
    yaxis7=green_ax("y6", "x3", [-0.304, 1.317], [1, 10], [P(0), P(1)], [0.5, 0.6, 0.7, 0.8, 0.9] + M1 + [20]),
    xaxis4=xax(RIGHT, "y8", [0.98, 1.10], RIGHT_TICKS, False),
    yaxis8=yax(ROW_A, "x4", [0, 55], [0, 10, 20, 30, 40, 50]),
    xaxis5=xax(RIGHT, "y9", [0.98, 1.10], RIGHT_TICKS, False),
    yaxis9=yax(ROW_B, "x5", [-0.70, 1.905], [1, 10], [P(0), P(1)], "log", M01 + M1 + [20, 30, 40, 50, 60, 70, 80],
               size=14),
    xaxis6=xax(RIGHT, "y10", [0.98, 1.10], RIGHT_TICKS, True),
    yaxis10=yax(ROW_C, "x6", [0, 5], [0, 1, 2, 3, 4, 5]),
)

# ---------------- reference lines ----------------
shapes = []
for i, (xr, yr) in enumerate([("x", "y"), ("x2", "y4"), ("x3", "y6"), ("x4", "y8"), ("x5", "y9"), ("x6", "y10")]):
    dash_col = "black" if i < 3 else "#777777"
    shapes.append(dict(type="line", xref=xr, yref=f"{yr} domain", x0=DASHED_RHO, x1=DASHED_RHO, y0=0, y1=1,
                       line=dict(color=dash_col, width=0.9, dash="dash"), layer="above"))
    shapes.append(dict(type="line", xref=xr, yref=f"{yr} domain", x0=DOTTED_RHO, x1=DOTTED_RHO, y0=0, y1=1,
                       line=dict(color="#888888", width=1.2, dash="dot"), layer="above"))
    shapes.append(dict(type="line", xref=xr, yref=f"{yr} domain", x0=SEPARATRIX, x1=SEPARATRIX, y0=0, y1=1,
                       line=dict(color="black", width=2.5), layer="above"))
fig.update_layout(shapes=shapes)


# ---------------- legends ----------------
def legend(xr, yt):
    return dict(x=px(xr), y=py(yt), xanchor="right", yanchor="top", xref="paper", yref="paper",
                bgcolor="rgba(255,255,255,0.8)", bordercolor="#cccccc", borderwidth=1,
                font=dict(family=FONT, size=15, color="black"))


fig.update_layout(
    legend=legend(613, 64), legend2=legend(613, 443), legend3=legend(613, 818),
    legend4=legend(1330, 64), legend5=legend(1330, 442), legend6=legend(1330, 818),
)

# ---------------- text ----------------
ann = []


def text(x, y, s, size, color="black", angle=0):
    ann.append(dict(x=px(x), y=py(y), xref="paper", yref="paper", text=s, showarrow=False, textangle=angle,
                    xanchor="center", yanchor="middle", font=dict(family=FONT, size=size, color=color)))


text(678, 22, "AUG 35921 @ 2.20 s", 33)
text(353, 42, "upstream", 19)
text(1071, 42, "target", 19)
text(353, 1218, "<i>ρ</i><sub><i>pol</i></sub>", 32)
text(1071, 1218, "<i>ρ</i><sub><i>pol</i></sub>", 32)
text(45, 239, "<i>n</i><sub>e</sub> [10<sup>19</sup> m<sup>−3</sup>]", 28, angle=-90)
text(253, 240, "Φ<sub><i>D</i></sub> [10<sup>22</sup> D/s]", 28, GRAY, -90)
text(688, 240, "<i>D̅</i> [m<sup>2</sup>/s]", 28, GREEN, -90)
text(27, 615, "<i>T</i><sub>e</sub> [eV]", 28, angle=-90)
text(684, 617, "<i>χ̅</i><sub>e</sub> [m<sup>2</sup>/s]", 28, GREEN, -90)
text(27, 993, "<i>T</i><sub><i>i</i></sub> [eV]", 28, angle=-90)
text(684, 994, "<i>χ̅</i><sub><i>i</i></sub> [m<sup>2</sup>/s]", 28, GREEN, -90)
text(750, 242, "<i>j</i><sub><i>sat</i></sub> [kA/m<sup>2</sup>]", 28, angle=-90)
text(743, 617, "<i>T</i><sub>e</sub> or <i>T</i><sub><i>i</i></sub> [eV]", 28, angle=-90)
text(762, 993, "<i>q</i><sub>⊥</sub> [MW/m<sup>2</sup>]", 28, angle=-90)
for (lx, ly), lab in zip([(117, 302), (117, 679), (116, 1057), (834, 302), (834, 679), (827, 1057)],
                         ["a)", "b)", "c)", "d)", "e)", "f)"]):
    text(lx, ly, lab, 27)
fig.update_layout(annotations=ann)

fig.update_layout(width=W, height=H, autosize=False, margin=dict(l=0, r=0, t=0, b=0, autoexpand=False),
                  paper_bgcolor="white", plot_bgcolor="white", font=dict(family=FONT))

fig.write_html("out.html")
